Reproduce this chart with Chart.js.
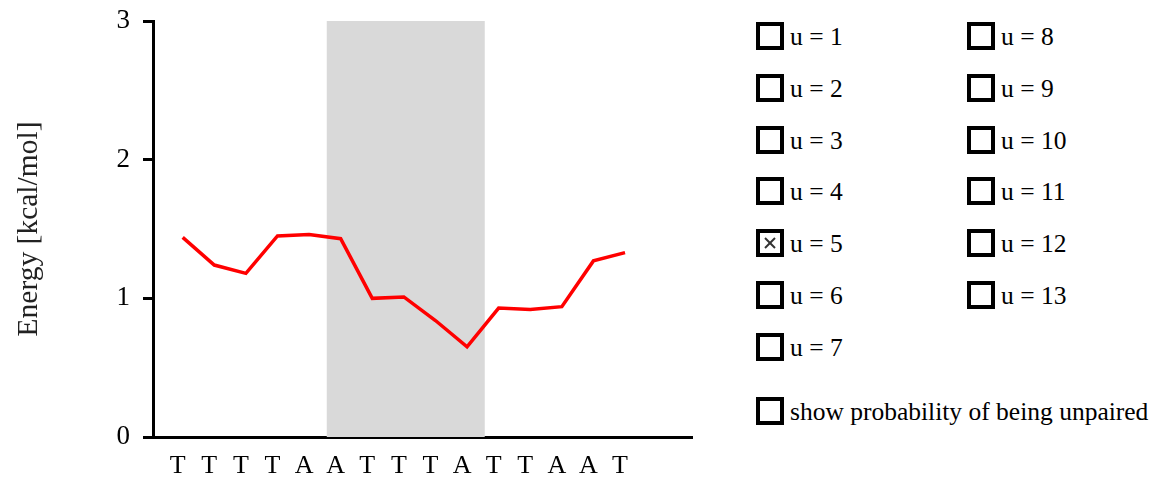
<!DOCTYPE html>
<html>
<head>
<meta charset="utf-8">
<script src="https://cdn.jsdelivr.net/npm/chart.js@4.4.0/dist/chart.umd.min.js"></script>
<style>
  html, body { margin: 0; padding: 0; background: #fff; }
  #wrap { position: relative; width: 1153px; height: 484px; overflow: hidden; }
  #plot { position: absolute; left: 0; top: 0; }
  .opt { position: absolute; height: 28px; font: 25.5px "Liberation Serif", "Times New Roman", serif;
         color: #000; white-space: nowrap; }
  .box { position: absolute; left: 0; top: 0; width: 28px; height: 28px; box-sizing: border-box;
         border: 4px solid #000; background: #fff; }
  .box svg { position: absolute; left: 0; top: 0; }
  .txt { position: absolute; left: 34px; top: 1px; line-height: 28px; }
</style>
</head>
<body>
<div id="wrap">
  <canvas id="plot" width="740" height="484"></canvas>
  <div id="options"></div>
</div>
<script>
// sequence positions along the x axis
const bases = ["T", "T", "T", "T", "A", "A", "T", "T", "T", "A", "T", "T", "A", "A", "T"];
// opening energy per position for the selected window size
const energy = [1.44, 1.24, 1.18, 1.45, 1.46, 1.43, 1.00, 1.01, 0.84, 0.65, 0.93, 0.92, 0.94, 1.27, 1.33];
// highlighted site, in position units
const siteStart = 4.56;
const siteEnd = 9.56;
// y axis ticks
const energyTicks = [0, 1, 2, 3];
// window sizes offered in the selector
const windowSizes = [1, 2, 3, 4, 5, 6, 7, 8, 9, 10, 11, 12, 13];
const selectedSize = 5;

const serif = '"Liberation Serif", "Times New Roman", serif';

// shaded band behind the curve
const sitePlugin = {
  id: 'siteBand',
  beforeDatasetsDraw(chart) {
    const { ctx, scales: { x, y } } = chart;
    const x0 = x.getPixelForValue(siteStart);
    const x1 = x.getPixelForValue(siteEnd);
    const yTop = y.getPixelForValue(energyTicks[energyTicks.length - 1]);
    const yBot = y.getPixelForValue(energyTicks[0]);
    ctx.save();
    ctx.fillStyle = '#d9d9d9';
    ctx.fillRect(x0, yTop, x1 - x0, yBot - yTop);
    ctx.restore();
  }
};

new Chart(document.getElementById('plot'), {
  type: 'line',
  data: {
    datasets: [{
      data: energy.map((v, i) => ({ x: i, y: v })),
      borderColor: '#ff0000',
      borderWidth: 3.5,
      pointRadius: 0,
      tension: 0,
      fill: false
    }]
  },
  options: {
    responsive: false,
    animation: false,
    devicePixelRatio: 1,
    layout: { padding: { left: 0, right: 48, top: 21, bottom: 0 } },
    plugins: { legend: { display: false }, tooltip: { enabled: false } },
    scales: {
      x: {
        type: 'linear',
        min: -0.94,
        max: 16.12,
        afterBuildTicks(axis) { axis.ticks = bases.map((_, i) => ({ value: i })); },
        afterFit(axis) { axis.height = 47; axis.paddingLeft = 0; axis.paddingRight = 0; },
        grid: { display: false, drawTicks: false },
        border: { display: true, width: 3, color: '#000' },
        ticks: {
          autoSkip: false,
          maxRotation: 0,
          padding: 14,
          labelOffset: -5,
          color: '#000',
          font: { family: serif, size: 26 },
          callback: (v) => bases[v]
        }
      },
      y: {
        min: 0,
        max: 3,
        afterBuildTicks(axis) { axis.ticks = energyTicks.map(v => ({ value: v })); },
        afterFit(axis) { axis.width = 153; axis.paddingTop = 0; axis.paddingBottom = 0; },
        grid: { drawOnChartArea: false, drawTicks: true, tickLength: 10, lineWidth: 3, color: '#000' },
        border: { display: true, width: 3, color: '#000' },
        ticks: { padding: 13, color: '#000', font: { family: serif, size: 27 } },
        title: {
          display: true,
          text: 'Energy [kcal/mol]',
          color: '#222',
          padding: { top: 12, bottom: 0 },
          font: { family: serif, size: 29.5 }
        }
      }
    }
  },
  plugins: [sitePlugin]
});

// window-size selector and the unpaired-probability toggle
const panel = document.getElementById('options');
function addOption(left, top, label, checked) {
  const el = document.createElement('div');
  el.className = 'opt';
  el.style.left = left + 'px';
  el.style.top = top + 'px';
  const box = document.createElement('div');
  box.className = 'box';
  if (checked) {
    box.innerHTML = '<svg width="20" height="20" viewBox="0 0 20 20">' +
      '<line x1="5" y1="5" x2="15" y2="15" stroke="#333" stroke-width="2"/>' +
      '<line x1="15" y1="5" x2="5" y2="15" stroke="#333" stroke-width="2"/></svg>';
  }
  const txt = document.createElement('span');
  txt.className = 'txt';
  txt.textContent = label;
  el.appendChild(box);
  el.appendChild(txt);
  panel.appendChild(el);
}
windowSizes.forEach((u, i) => {
  const col = i < 7 ? 0 : 1;
  const row = i < 7 ? i : i - 7;
  addOption(col ? 967 : 756, 22 + row * 51.8, 'u = ' + u, u === selectedSize);
});
addOption(756, 397, 'show probability of being unpaired', false);
</script>
</body>
</html>
